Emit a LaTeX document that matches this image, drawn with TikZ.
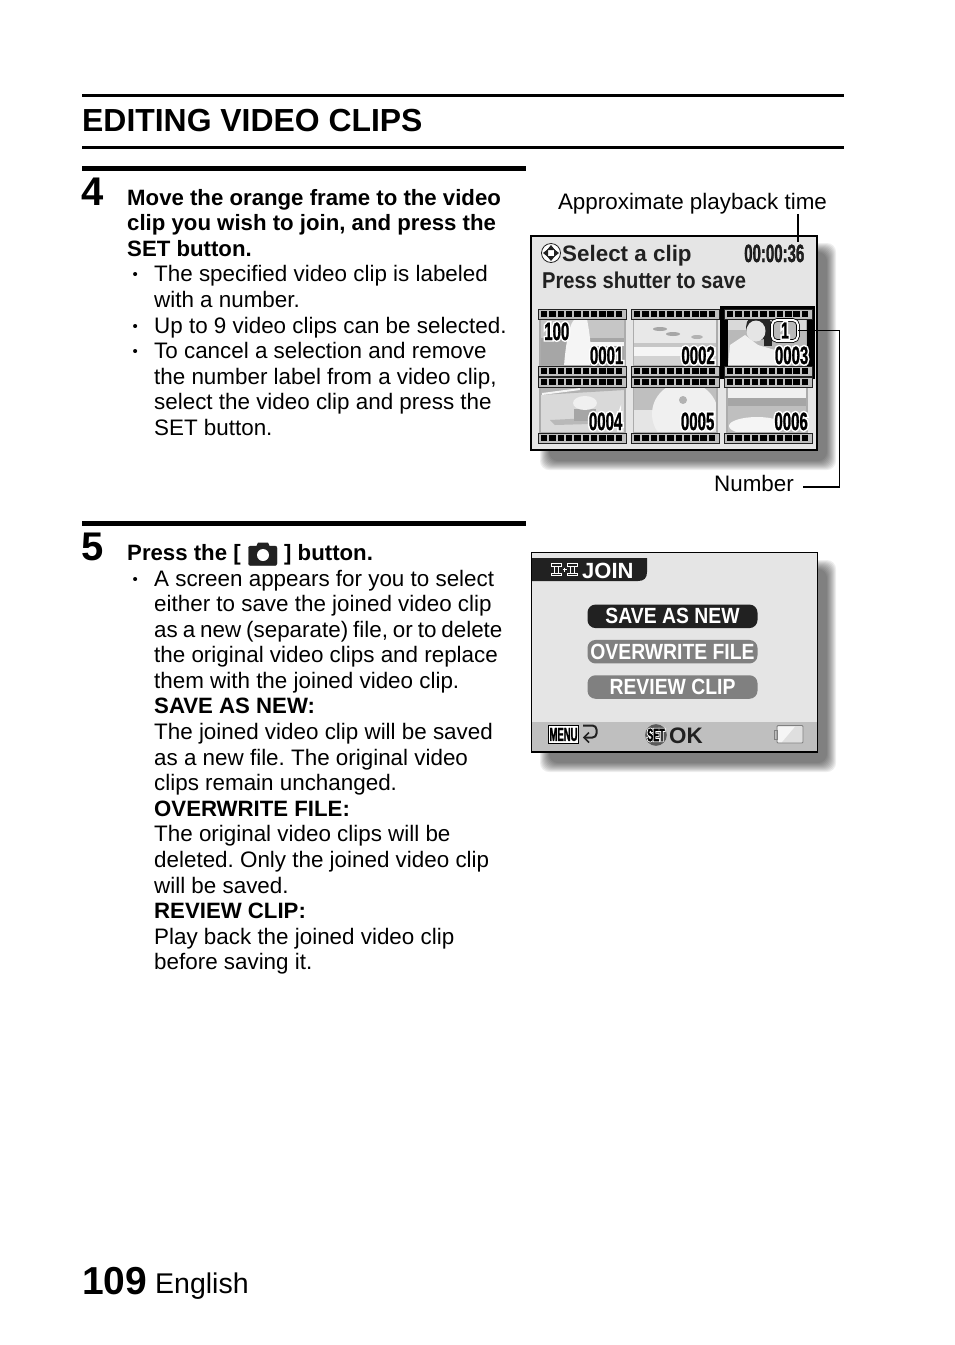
\documentclass[tikz,border=0pt]{standalone}
\usepackage{fontspec}
\setmainfont{Liberation Sans}
\newfontfamily\narrowfont[FakeStretch=0.6]{Liberation Sans}
\newfontfamily\tinyfont[FakeStretch=0.5]{Liberation Sans}
\newfontfamily\semifont[FakeStretch=0.88]{Liberation Sans}
\newcommand{\heavytext}[1]{\special{pdf:code q 0 0 0 RG 0.25 w 2 Tr}#1\special{pdf:code Q}}
\newcommand{\halotext}[2][3.4]{\leavevmode\rlap{\special{pdf:code q 1 1 1 RG 1 1 1 rg #1 w 2 Tr}#2\special{pdf:code Q}}\heavytext{#2}}
\definecolor{screengray}{gray}{0.90}
\definecolor{ink}{gray}{0.13}
\tikzset{
    body/.style = {anchor=base west, inner sep=0pt, font=\fontsize{22.4}{25}\selectfont\frenchspacing},
    boldbody/.style = {body, font=\fontsize{22.2}{25}\selectfont\bfseries\frenchspacing},
    bulletmark/.style = {anchor=base west, inner sep=0pt, font=\fontsize{15}{15}\selectfont},
    stepnum/.style = {anchor=base west, inner sep=0pt, font=\fontsize{40}{40}\selectfont\bfseries},
    clipnum/.style = {anchor=base east, inner sep=0pt, text=black, font=\fontsize{25}{25}\selectfont\narrowfont\bfseries},
    screentext/.style = {anchor=base west, inner sep=0pt, text=ink, font=\fontsize{22}{22}\selectfont\semifont\bfseries},
    menubtn/.style = {rounded corners=8pt, minimum width=170pt, minimum height=23.5pt, inner sep=0pt,
        text=white, font=\fontsize{22}{22}\selectfont\semifont\bfseries},
    leader/.style = {line width=1.3pt},
    bar/.style = {line width=5pt},
    rulebar/.style = {line width=3pt}
}
\begin{document}
\begin{tikzpicture}[x=1pt, y=-1pt]
        \useasboundingbox (0,0) rectangle (954,1345);

        % page heading
        \draw [rulebar] (82,95.5) -- (844,95.5);
        \draw [rulebar] (82,147) -- (844,147);
        \node [anchor=base west, inner sep=0pt, font=\fontsize{31.9}{33}\selectfont\bfseries] (title) at (82,131) {EDITING VIDEO CLIPS};

        % step 4
        \draw [bar] (82,168.5) -- (526,168.5);
        \node [stepnum] (stepfour) at (81.5,205) {4};
        \node [boldbody] (fouraa) at (127,205) {Move the orange frame to the video};
        \node [boldbody] (fourab) at (127,230) {clip you wish to join, and press the};
        \node [boldbody] (fourac) at (127,256) {SET button.};
        \node [bulletmark] (bulleta) at (132.5,279.5) {\textbullet};
        \node [body] (fourba) at (154,281) {The specified video clip is labeled};
        \node [body] (fourbb) at (154,307) {with a number.};
        \node [bulletmark] (bulletb) at (132.5,331.5) {\textbullet};
        \node [body] (fourbc) at (154,333) {Up to 9 video clips can be selected.};
        \node [bulletmark] (bulletc) at (132.5,356.5) {\textbullet};
        \node [body] (fourbd) at (154,358) {To cancel a selection and remove};
        \node [body] (fourbe) at (154,384) {the number label from a video clip,};
        \node [body] (fourbf) at (154,409) {select the video clip and press the};
        \node [body] (fourbg) at (154,435) {SET button.};

        % step 5
        \draw [bar] (82,523.5) -- (526,523.5);
        \node [stepnum] (stepfive) at (81.5,560) {5};
        \node [boldbody] (fiveaa) at (127,560) {Press the [};
        \filldraw [ink, rounded corners=2pt] (248.5,546) rectangle (277,565.5);
        \fill [ink] (256,547) -- (258,542.5) -- (268,542.5) -- (270,547) -- cycle;
        \fill [white] (263,555) circle [radius = 6pt];
        \node [boldbody] (fiveab) at (284,560) {] button.};
        \node [bulletmark] (bulletd) at (132.5,584.5) {\textbullet};
        \node [body] (fiveba) at (154,586) {A screen appears for you to select};
        \node [body] (fivebb) at (154,611) {either to save the joined video clip};
        \node [body] (fivebc) at (154,637) {\spaceskip=0.22em as a new (separate) file, or to delete};
        \node [body] (fivebd) at (154,662) {the original video clips and replace};
        \node [body] (fivebe) at (154,688) {them with the joined video clip.};
        \node [boldbody] (fivebf) at (154,713) {SAVE AS NEW:};
        \node [body] (fivebg) at (154,739) {The joined video clip will be saved};
        \node [body] (fivebh) at (154,765) {as a new file. The original video};
        \node [body] (fivebi) at (154,790) {clips remain unchanged.};
        \node [boldbody] (fivebj) at (154,816) {OVERWRITE FILE:};
        \node [body] (fivebk) at (154,841) {The original video clips will be};
        \node [body] (fivebl) at (154,867) {deleted. Only the joined video clip};
        \node [body] (fivebm) at (154,893) {will be saved.};
        \node [boldbody] (fivebn) at (154,918) {REVIEW CLIP:};
        \node [body] (fivebo) at (154,944) {Play back the joined video clip};
        \node [body] (fivebp) at (154,969) {before saving it.};

        % page number
        \node [anchor=base west, inner sep=0pt, font=\fontsize{39}{39}\selectfont\bfseries] (pagenum) at (82,1294) {109};
        \node [anchor=base west, inner sep=0pt, font=\fontsize{28.5}{30}\selectfont] (language) at (155,1293) {English};

        % first screen
        \foreach \s in {0,1,...,9}
            \fill [black, opacity=0.065, rounded corners=9pt] (540+\s,243+\s) rectangle (836-\s,470-\s);
        \draw [fill=screengray, line width=1.4pt] (531,236) rectangle (817,450);
        \draw [ink, fill=white, line width=0.8pt] (551,253) circle [radius = 9.5pt];
        \fill [ink] (551,245) -- (555,250) -- (547,250) -- cycle;
        \fill [ink] (551,261) -- (555,256) -- (547,256) -- cycle;
        \fill [ink] (543,253) -- (548,249) -- (548,257) -- cycle;
        \fill [ink] (559,253) -- (554,249) -- (554,257) -- cycle;
        \node [screentext, font=\fontsize{22.4}{23}\selectfont\bfseries] (selectclip) at (562,261) {Select a clip};
        \node [screentext, font=\fontsize{22.9}{23}\selectfont\semifont\bfseries] (pressshutter) at (542,288) {Press shutter to save};
        \node [clipnum, text=ink] (cliptime) at (804.5,262) {\heavytext{00:00:36}};

        % photos
        \begin{scope}
            \clip (540,319) rectangle (625,366);
            \fill [gray!70] (540,319) rectangle (625,366);
            \fill [gray!45] (540,319) rectangle (625,338);
            \fill [gray!8] (584,342) rectangle (625,346);
            \fill [gray!8] (564,366) .. controls (566,340) and (570,322) .. (575,319) -- (587,319) .. controls (590,335) and (592,350) .. (590,366) -- cycle;
        \end{scope}
        \begin{scope}
            \clip (634,319) rectangle (717,366);
            \fill [gray!18] (634,319) rectangle (717,366);
            \fill [gray!45] (634,343) rectangle (717,347);
            \fill [gray!8] (634,347) rectangle (717,356);
            \fill [gray!35] (634,356) rectangle (717,366);
            \fill [gray!70] (660,329) ellipse (7pt and 2pt);
            \fill [gray!70] (673,334) ellipse (7pt and 2pt);
            \fill [gray!60] (697,337) ellipse (6pt and 2pt);
        \end{scope}
        \begin{scope}
            \clip (728,319) rectangle (807,366);
            \fill [gray!55] (728,319) rectangle (807,366);
            \fill [gray!30] (728,319) rectangle (807,330);
            \fill [gray!12] (728,366) -- (730,345) -- (745,335) -- (758,345) -- (775,350) -- (790,358) -- (785,366) -- cycle;
            \fill [black!85] (759,327) circle [radius = 13pt];
            \fill [black!85] (764,330) rectangle (772,346);
            \fill [gray!20] (756,331) ellipse (9.5pt and 10.5pt);
        \end{scope}
        \begin{scope}
            \clip (540,387) rectangle (625,433);
            \fill [gray!30] (540,387) rectangle (625,433);
            \fill [gray!60] (540,387) -- (625,387) -- (625,390) -- (540,395) -- cycle;
            \fill [gray!8] (542,393) -- (580,388) -- (580,390) -- (542,395) -- cycle;
            \fill [gray!55] (550,420) -- (590,418) -- (590,424) -- (555,425) -- cycle;
            \fill [gray!70] (574,409) rectangle (596,421);
            \fill [gray!12] (585,403) ellipse (12pt and 7pt);
        \end{scope}
        \begin{scope}
            \clip (633,387) rectangle (717,433);
            \fill [gray!50] (633,387) rectangle (717,433);
            \fill [gray!20] (633,410) rectangle (717,433);
            \fill [gray!12] (685,414) ellipse (33pt and 32pt);
            \fill [gray!60] (683,400) circle [radius = 4pt];
        \end{scope}
        \begin{scope}
            \clip (727,387) rectangle (807,433);
            \fill [gray!12] (727,387) rectangle (807,398);
            \fill [gray!70] (727,398) rectangle (807,406);
            \fill [gray!50] (727,406) rectangle (807,433);
            \fill [gray!8] (757,426) ellipse (28pt and 9pt);
        \end{scope}

        % photo edges
        \foreach \xa/\xb in {540/625,633.5/717,727/807}
            \foreach \ya/\yb in {319/366,387/433}
                \draw [gray!65, line width=1.5pt] (\xa,\ya) rectangle (\xb,\yb);

        % selected clip frame
        \draw [black, line width=8pt] (724,310) rectangle (811,374.5);

        % film strips
        \foreach \xa in {538,631,724}
            \foreach \ya in {309,366,377,433} {
                \draw [ink, fill=gray!50, line width=1pt] (\xa,\ya) rectangle (\xa+88,\ya+10);
                \foreach \k in {0,1,...,9}
                    \fill [black] (\xa+3+8.3*\k,\ya+2.2) rectangle (\xa+9.4+8.3*\k,\ya+7.8);
            }

        % clip numbers
        \node [clipnum] (clipnuma) at (623.5,364) {\halotext{0001}};
        \node [clipnum] (clipnumb) at (715,364) {\halotext{0002}};
        \node [clipnum] (clipnumc) at (808.5,364) {\halotext{0003}};
        \node [clipnum] (clipnumd) at (622.5,430) {\halotext{0004}};
        \node [clipnum] (clipnume) at (714.5,430) {\halotext{0005}};
        \node [clipnum] (clipnumf) at (808,430) {\halotext{0006}};
        \node [clipnum] (foldernum) at (569.5,340) {\halotext{100}};
        \node [draw=black, double=white, double distance=2pt, fill=gray!55, line width=0.8pt, rounded corners=5pt,
            minimum width=26pt, minimum height=21pt, inner sep=0pt, text=black,
            font=\fontsize{23}{23}\selectfont\narrowfont\bfseries] (numbadge) at (785,330.5) {\halotext{1}};

        % leaders of the first screen
        \node [body, anchor=base] (playlabel) at (692.5,209) {Approximate playback time};
        \coordinate (timeend) at (798,242);
        \draw [leader] (timeend |- playlabel.south) -- (timeend);
        \node [body, anchor=base east, inner xsep=9pt] (numberlabel) at (803,491) {Number};
        \coordinate (numbercorner) at (839.5,487);
        \draw [leader] (numbadge.east) -| (numbercorner) -- (numbercorner -| numberlabel.east);

        % second screen
        \foreach \s in {0,1,...,9}
            \fill [black, opacity=0.065, rounded corners=9pt] (540+\s,560+\s) rectangle (836-\s,772-\s);
        \draw [fill=screengray, line width=1.4pt] (531.5,552.5) rectangle (817.5,752);
        \fill [gray!50] (532.2,722) rectangle (816.8,751.3);
        \fill [ink] (532,558) -- (647,558) -- (647,572) .. controls (647,578) and (644,581) .. (638,581) -- (532,581) -- cycle;
        \node [screentext, text=white, font=\fontsize{22}{22}\selectfont\bfseries] (jointitle) at (582,578) {JOIN};
        \foreach \xa in {551,567} {
            \draw [white, line width=0.8pt] (\xa,563.5) rectangle (\xa+10,566) (\xa,573) rectangle (\xa+10,575.5);
            \draw [white, line width=0.8pt] (\xa+3,566) rectangle (\xa+7,573);
        }
        \draw [white, line width=0.9pt] (562.5,569.5) -- (566.5,569.5) (564.5,567.5) -- (564.5,571.5);
        \node [menubtn, fill=ink] (savenew) at (672.5,616.3) {SAVE AS NEW};
        \node [menubtn, fill=gray] (overwrite) at (672.5,651.7) {OVERWRITE FILE};
        \node [menubtn, fill=gray] (review) at (672.5,687) {REVIEW CLIP};
        \node [draw=black, fill=white, line width=1pt, minimum width=30pt, minimum height=18.5pt, inner sep=0pt,
            text=black, font=\fontsize{19}{19}\selectfont\tinyfont\bfseries] (menukey) at (563.5,734.5) {\heavytext{MENU}};
        \draw [ink, line width=2pt, rounded corners=4pt] (583,725.5) -- (596.5,725.5) -- (596.5,737.5) -- (585,737.5);
        \draw [ink, line width=1.6pt] (589,732.5) -- (584,737.5) -- (589,742.5);
        \node [circle, fill=gray!70!black, minimum size=20pt, inner sep=0pt, text=black,
            font=\fontsize{18}{18}\selectfont\tinyfont\bfseries] (setkey) at (656,735) {\halotext[2]{SET}};
        \node [screentext, font=\fontsize{22.4}{24}\selectfont\bfseries] (oklabel) at (669,743) {OK};
        \draw [gray, fill=gray!25, line width=0.8pt, rounded corners=1pt] (777,725.5) rectangle (803,743);
        \fill [gray!8] (778,742) -- (778,726.5) -- (795,726.5) -- (782,742) -- cycle;
        \draw [gray, line width=0.8pt] (774.5,730) rectangle (777,739);
    \end{tikzpicture}
\end{document}
